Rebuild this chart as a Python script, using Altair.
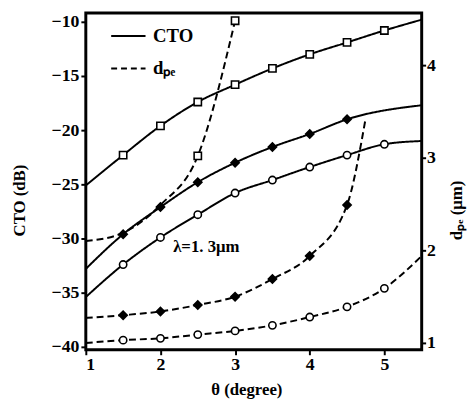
import altair as alt
import pandas as pd

# ---- data ----
# CTO (dB), solid curves
cto_sq_x = [1, 1.5, 2, 2.5, 3, 3.5, 4, 4.5, 5, 5.5]
cto_sq_y = [-25.1, -22.3, -19.6, -17.4, -15.8, -14.3, -13.0, -11.9, -10.8, -9.8]
cto_sq_m = [1.5, 2, 2.5, 3, 3.5, 4, 4.5, 5]

cto_di_x = [1, 1.5, 2, 2.5, 3, 3.5, 4, 4.5, 5.5]
cto_di_y = [-32.8, -29.6, -27.1, -24.8, -23.0, -21.55, -20.35, -19.0, -17.7]
cto_di_m = [1.5, 2, 2.5, 3, 3.5, 4, 4.5]

cto_ci_x = [1, 1.5, 2, 2.5, 3, 3.5, 4, 4.5, 5, 5.5]
cto_ci_y = [-35.4, -32.4, -29.9, -27.8, -25.8, -24.6, -23.4, -22.3, -21.3, -21.0]
cto_ci_m = [1.5, 2, 2.5, 3, 3.5, 4, 4.5, 5]

# d_pe (um), dashed curves
d_sq_x = [1, 1.5, 2, 2.5, 3]
d_sq_y = [2.10, 2.19, 2.49, 3.02, 4.48]
d_sq_m = [2.5, 3]

d_di_x = [1, 1.5, 2, 2.5, 3, 3.5, 4, 4.5, 4.75]
d_di_y = [1.27, 1.30, 1.34, 1.41, 1.50, 1.69, 1.94, 2.49, 3.43]
d_di_m = [1.5, 2, 2.5, 3, 3.5, 4, 4.5]

d_ci_x = [1, 1.5, 2, 2.5, 3, 3.5, 4, 4.5, 5, 5.5]
d_ci_y = [1.00, 1.03, 1.05, 1.09, 1.13, 1.19, 1.28, 1.39, 1.59, 1.94]
d_ci_m = [1.5, 2, 2.5, 3, 3.5, 4, 4.5, 5]

x_ticks = [1, 2, 3, 4, 5]
cto_ticks = [-40, -35, -30, -25, -20, -15, -10]
d_ticks = [1, 2, 3, 4]

x_domain = [1, 5.5]
cto_domain = [-40.27, -9.18]
d_domain = [0.926, 4.564]

legend_solid = {"x": 1.34, "x2": 1.80, "y": -11.3, "label": "CTO", "tx": 1.90}
legend_dash = {"x": 1.34, "x2": 1.80, "y": -14.3, "label": "dₚₑ", "tx": 1.90}
note = {"x": 2.17, "y": -30.8, "label": "λ=1. 3μm"}

FONT = "Liberation Serif"

# ---- build frames ----
def frame(xs, ys, name, marks):
    df = pd.DataFrame({"x": xs, "y": ys})
    df["series"] = name
    df["marker"] = df["x"].isin(marks)
    return df

cto_series = [
    (frame(cto_sq_x, cto_sq_y, "cto_sq", cto_sq_m), "square", False),
    (frame(cto_di_x, cto_di_y, "cto_di", cto_di_m), "diamond", True),
    (frame(cto_ci_x, cto_ci_y, "cto_ci", cto_ci_m), "circle", False),
]
d_series = [
    (frame(d_sq_x, d_sq_y, "d_sq", d_sq_m), "square", False),
    (frame(d_di_x, d_di_y, "d_di", d_di_m), "diamond", True),
    (frame(d_ci_x, d_ci_y, "d_ci", d_ci_m), "circle", False),
]

x_axis = alt.Axis(values=x_ticks, title="θ   (degree)", grid=False,
                  titleX=163, titleY=40, titleBaseline="middle",
                  titleFontSize=17, labelFontSize=18, format="d",
                  tickSize=5, labelPadding=1)
xscale = alt.Scale(domain=x_domain, nice=False, zero=False)
xenc = alt.X("x:Q", scale=xscale, axis=x_axis)

cto_axis = alt.Axis(values=cto_ticks, title="CTO (dB)", grid=False, orient="left",
                    titleX=-58, titleY=190, titleAngle=270, titleBaseline="bottom",
                    titleAlign="center", titleFontSize=17, labelFontSize=18,
                    tickSize=5, labelPadding=2)
d_axis = alt.Axis(values=d_ticks, title="dₚₑ (μm)", grid=False, orient="right",
                  titleX=44, titleY=200, titleAngle=270, titleBaseline="bottom",
                  titleAlign="center", titleFontSize=17, labelFontSize=18,
                  tickSize=4, labelPadding=1)

def y_cto(field="y"):
    return alt.Y(f"{field}:Q", scale=alt.Scale(domain=cto_domain, nice=False, zero=False), axis=cto_axis)

def y_d(field="y"):
    return alt.Y(f"{field}:Q", scale=alt.Scale(domain=d_domain, nice=False, zero=False), axis=d_axis)

def series_layers(series, yfun, dashed):
    layers = []
    for df, shape, filled in series:
        line = alt.Chart(df).mark_line(
            color="black", strokeWidth=2, interpolate="monotone",
            strokeDash=[7, 4] if dashed else [1, 0], clip=True
        ).encode(x=xenc, y=yfun())
        pts = alt.Chart(df).transform_filter("datum.marker").mark_point(
            shape=shape, size=55 if shape != "diamond" else 70, filled=True,
            fill="black" if filled else "white", stroke="black",
            strokeWidth=1.6, opacity=1, clip=True
        ).encode(x=xenc, y=yfun())
        layers += [line, pts]
    return layers

cto_layers = series_layers(cto_series, y_cto, False)
d_layers = series_layers(d_series, y_d, True)

leg = pd.DataFrame([legend_solid, legend_dash])
leg["dash"] = ["solid", "dash"]
xleg = alt.X("x:Q", scale=xscale, axis=x_axis)
xtext = alt.X("tx:Q", scale=xscale, axis=x_axis)
leg_solid = alt.Chart(leg[leg.dash == "solid"]).mark_rule(color="black", strokeWidth=2).encode(
    x=xleg, x2="x2:Q", y=y_cto())
leg_dash = alt.Chart(leg[leg.dash == "dash"]).mark_rule(color="black", strokeWidth=2, strokeDash=[6, 4]).encode(
    x=xleg, x2="x2:Q", y=y_cto())
leg_text = alt.Chart(leg).mark_text(align="left", baseline="middle", font=FONT, fontSize=19,
                                    fontWeight="bold", color="black").encode(
    x=xtext, y=y_cto(), text="label:N")
note_text = alt.Chart(pd.DataFrame([note])).mark_text(align="left", baseline="middle", font=FONT,
                                                      fontSize=17, fontWeight="bold", color="black").encode(
    x=xleg, y=y_cto(), text="label:N")

cto_group = alt.layer(*cto_layers, leg_solid, leg_dash, leg_text, note_text)
d_group = alt.layer(*d_layers)

chart = alt.layer(cto_group, d_group).resolve_scale(y="independent").properties(
    width=341, height=342,
    autosize=alt.AutoSizeParams(type="none"),
    padding={"left": 79, "top": 2, "right": 46, "bottom": 52},
).configure_view(
    stroke="black", strokeWidth=3
).configure_axis(
    domain=False, labelFont=FONT, titleFont=FONT, labelFontWeight="bold",
    titleFontWeight="bold", labelColor="black", titleColor="black",
    tickColor="black", tickWidth=2
)

chart.save("out.html", embed_options={"renderer": "svg", "actions": False})
